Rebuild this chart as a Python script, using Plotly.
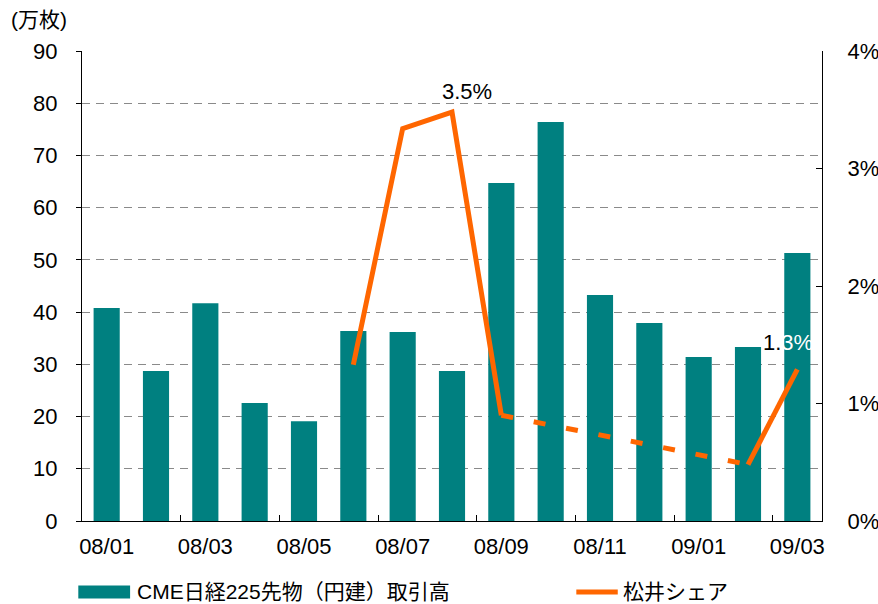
import plotly.graph_objects as go

months = ["08/01", "08/02", "08/03", "08/04", "08/05", "08/06", "08/07", "08/08",
          "08/09", "08/10", "08/11", "08/12", "09/01", "09/02", "09/03"]
volume = [40.8, 28.7, 41.7, 22.6, 19.1, 36.4, 36.2, 28.7,
          64.7, 76.4, 43.3, 37.9, 31.4, 33.3, 51.3]
share = [None, None, None, None, None, 1.33, 3.34, 3.48,
         0.90, None, None, None, None, 0.48, 1.29]
# months with no data between 08/09 and 09/02 are bridged with a dashed line
gap_from, gap_to = "08/09", "09/02"

bar_name = "CME日経225先物（円建）取引高"
line_name = "松井シェア"

TEAL = "#008080"
ORANGE = "#FF6600"
FONT = "Liberation Sans, Arial, Noto Sans CJK JP"

fig = go.Figure()

fig.add_trace(go.Bar(x=months, y=volume, name=bar_name,
                     marker=dict(color=TEAL, line=dict(width=0)),
                     showlegend=False))

fig.add_trace(go.Scatter(x=months, y=share, name=line_name, yaxis="y2",
                         mode="lines", connectgaps=False,
                         line=dict(color=ORANGE, width=5),
                         showlegend=False))

i0, i1 = months.index(gap_from), months.index(gap_to)
fig.add_trace(go.Scatter(x=[months[i0], months[i1]], y=[share[i0], share[i1]],
                         yaxis="y2", mode="lines",
                         line=dict(color=ORANGE, width=5, dash="12px,21px"),
                         showlegend=False, hoverinfo="skip"))

fig.update_layout(
    width=878, height=604,
    margin=dict(l=82, r=56, t=51, b=83, autoexpand=False),
    plot_bgcolor="white", paper_bgcolor="white",
    font=dict(family=FONT, size=22, color="black"),
    bargap=0.47,
    xaxis=dict(type="category", tickmode="linear", tick0=0, dtick=2,
               tickangle=0, automargin=False,
               tickson="boundaries", ticks="inside", ticklen=6,
               tickcolor="black", showline=True, linecolor="black",
               linewidth=1, showgrid=False, ticklabelstandoff=6),
    yaxis=dict(range=[0, 90], dtick=10, ticks="outside", ticklen=5,
               automargin=False,
               tickcolor="black", showline=True, linecolor="black",
               linewidth=1, showgrid=True, gridcolor="#8a8a8a",
               griddash="8px,6px", gridwidth=1, zeroline=False,
               ticklabelstandoff=14),
    yaxis2=dict(range=[0, 4], dtick=1, overlaying="y", side="right",
                automargin=False,
                ticks="inside", ticklen=6, tickcolor="black",
                ticksuffix="%", showline=True, linecolor="black",
                linewidth=1, showgrid=False, zeroline=False,
                ticklabelstandoff=20),
)

fig.add_annotation(x="08/08", y=3.48, yref="y2", text="3.5%",
                   showarrow=False, yanchor="bottom", xshift=15, yshift=6)
fig.add_annotation(x="09/03", y=1.29, yref="y2",
                   text="1.<span style='color:white'>3%</span>",
                   showarrow=False, yanchor="bottom", xshift=-9, yshift=12)

fig.add_annotation(xref="paper", yref="paper", x=-0.098, y=1.0, yshift=32,
                   text="(万枚)", showarrow=False, xanchor="left",
                   yanchor="middle", font=dict(size=21))

# manual legend at the bottom
fig.add_shape(type="rect", xref="paper", yref="paper",
              x0=-0.005, x1=0.065, y0=-0.165, y1=-0.137,
              fillcolor=TEAL, line=dict(width=0))
fig.add_annotation(xref="paper", yref="paper", x=0.072, y=-0.151,
                   text=bar_name, showarrow=False, xanchor="left",
                   yanchor="middle", font=dict(size=21))
fig.add_shape(type="line", xref="paper", yref="paper",
              x0=0.668, x1=0.724, y0=-0.151, y1=-0.151,
              line=dict(color=ORANGE, width=5))
fig.add_annotation(xref="paper", yref="paper", x=0.728, y=-0.151,
                   text=line_name, showarrow=False, xanchor="left",
                   yanchor="middle", font=dict(size=21))

fig.write_html("out.html", config={"displayModeBar": False},
               post_script="document.body.style.margin='0';"
                           "document.body.style.overflow='hidden';")
